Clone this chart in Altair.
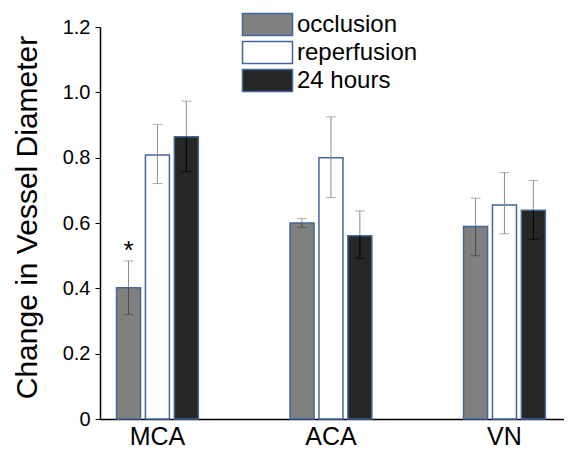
import altair as alt
import pandas as pd

groups = ["MCA", "ACA", "VN"]
series = ["occlusion", "reperfusion", "24 hours"]

occlusion = [0.402, 0.600, 0.589]
reperfusion = [0.808, 0.800, 0.655]
hours24 = [0.864, 0.561, 0.639]

occlusion_lo = [0.320, 0.586, 0.500]
occlusion_hi = [0.484, 0.614, 0.676]
reperfusion_lo = [0.721, 0.678, 0.567]
reperfusion_hi = [0.902, 0.925, 0.754]
hours24_lo = [0.758, 0.492, 0.550]
hours24_hi = [0.973, 0.637, 0.730]

star_group = ["MCA"]
star_series = ["occlusion"]
star_value = [0.505]

lower_colors = ["#4a4a4a", "#8c8c8c", "#000000"]

rows = []
for s, vals, los, his in [
    ("occlusion", occlusion, occlusion_lo, occlusion_hi),
    ("reperfusion", reperfusion, reperfusion_lo, reperfusion_hi),
    ("24 hours", hours24, hours24_lo, hours24_hi),
]:
    for g, v, lo, hi in zip(groups, vals, los, his):
        rows.append({"group": g, "series": s, "value": v, "lo": lo, "hi": hi})
df = pd.DataFrame(rows)
star_df = pd.DataFrame({"group": star_group, "series": star_series, "value": star_value, "t": ["*"]})

font = "Liberation Sans"

x_enc = alt.X("group:N", sort=groups, title=None,
              scale=alt.Scale(paddingInner=0.5, paddingOuter=0.087, align=0.465),
              axis=alt.Axis(labelAngle=0, labelFontSize=25, labelColor="black", labelFont=font,
                            ticks=False, labelPadding=5, domainColor="black", domainWidth=1.5,
                            grid=False))
xo_enc = alt.XOffset("series:N", sort=series,
                     scale=alt.Scale(paddingInner=0.17, paddingOuter=0.085))
y_scale = alt.Scale(domain=[0, 1.2], nice=False)

bars = alt.Chart(df).mark_bar(stroke="#45669a", strokeWidth=1.5).encode(
    x=x_enc,
    xOffset=xo_enc,
    y=alt.Y("value:Q", scale=y_scale, title="Change in Vessel Diameter",
            axis=alt.Axis(values=[0, 0.2, 0.4, 0.6, 0.8, 1.0, 1.2],
                          labelExpr="datum.value == 0 ? '0' : format(datum.value, '.1f')",
                          labelFontSize=20, labelColor="black", labelFont=font,
                          tickSize=5, tickColor="black", domainColor="black", domainWidth=1.5,
                          labelPadding=5, grid=False,
                          titleFontSize=30, titleFontWeight="normal", titleColor="black",
                          titleFont=font, titlePadding=20, titleY=190)),
    fill=alt.Fill("series:N", sort=series,
                  scale=alt.Scale(domain=series, range=["#808080", "#ffffff", "#262626"]),
                  legend=alt.Legend(title=None, orient="none", legendX=154, legendY=-16,
                                    symbolType="M-2,-0.88L2,-0.88L2,0.88L-2,0.88Z",
                                    symbolSize=625, symbolStrokeColor="#45669a",
                                    symbolStrokeWidth=1.5, symbolOpacity=1,
                                    labelFontSize=24, labelFont=font, labelColor="black",
                                    labelOffset=16, rowPadding=-1, padding=0)),
)

upper = alt.Chart(df).mark_rule(color="#8c8c8c", strokeWidth=1).encode(
    x=x_enc, xOffset=xo_enc, y=alt.Y("value:Q", scale=y_scale), y2="hi:Q")

lower = alt.Chart(df).mark_rule(strokeWidth=1).encode(
    x=x_enc, xOffset=xo_enc, y=alt.Y("value:Q", scale=y_scale), y2="lo:Q",
    color=alt.Color("series:N", sort=series,
                    scale=alt.Scale(domain=series, range=lower_colors), legend=None))

cap_hi = alt.Chart(df).mark_tick(color="#8c8c8c", size=10, thickness=1, orient="horizontal").encode(
    x=x_enc, xOffset=xo_enc, y=alt.Y("hi:Q", scale=y_scale))

cap_lo = alt.Chart(df).mark_tick(size=10, thickness=1, orient="horizontal").encode(
    x=x_enc, xOffset=xo_enc, y=alt.Y("lo:Q", scale=y_scale),
    color=alt.Color("series:N", sort=series,
                    scale=alt.Scale(domain=series, range=lower_colors), legend=None))

star = alt.Chart(star_df).mark_text(fontSize=26, font=font, color="black", baseline="middle", dy=-3).encode(
    x=x_enc, xOffset=xo_enc, y=alt.Y("value:Q", scale=y_scale), text="t:N")

chart = alt.layer(bars, upper, lower, cap_hi, cap_lo, star).resolve_scale(
    color="independent"
).properties(
    width=464, height=392,
    autosize=alt.AutoSizeParams(type="none"),
    padding={"left": 92, "top": 19, "right": 0, "bottom": 30},
    view=alt.ViewBackground(stroke="transparent", strokeWidth=0, strokeOpacity=0),
).configure_view(stroke="transparent", strokeWidth=0, strokeOpacity=0).configure_axis(
    grid=False, gridOpacity=0
).configure(background="white")

chart.save("out.html", embed_options={"renderer": "svg", "actions": False})
